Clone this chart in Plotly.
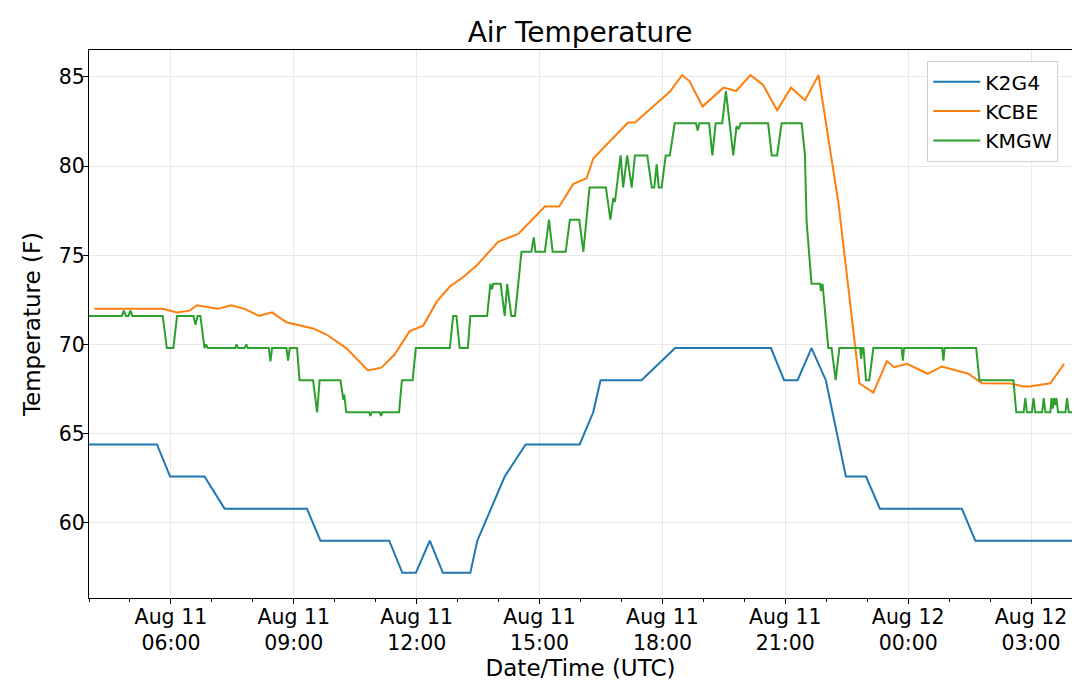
import pandas as pd
import plotly.graph_objects as go

# ---------------- data ----------------
START = "2018-08-11 04:00"   # left edge of the time axis (UTC)
END = "2018-08-12 04:00"

# hours after START, temperature (F)
k2g4_hours = [0, 1.66, 1.98, 2.82, 3.31, 5.32, 5.65, 7.33, 7.65, 7.98, 8.32, 8.64,
              9.31, 9.48, 10.15, 10.66, 11.98, 12.31, 12.49, 13.49, 14.31, 16.65,
              16.97, 17.30, 17.64, 17.99, 18.48, 18.97, 19.31, 21.31, 21.64, 24.0]
k2g4_temp = [64.4, 64.4, 62.6, 62.6, 60.8, 60.8, 59.0, 59.0, 57.2, 57.2, 59.0, 57.2,
             57.2, 59.0, 62.6, 64.4, 64.4, 66.2, 68.0, 68.0, 69.8, 69.8,
             68.0, 68.0, 69.8, 68.0, 62.6, 62.6, 60.8, 60.8, 59.0, 59.0]

kcbe_hours = [0.13, 1.80, 2.15, 2.46, 2.63, 3.15, 3.47, 3.80, 4.15, 4.47, 4.82, 5.14,
              5.47, 5.80, 6.28, 6.81, 7.14, 7.46, 7.83, 8.16, 8.49, 8.81, 9.13, 9.46,
              9.99, 10.48, 11.13, 11.48, 11.82, 12.15, 12.31, 13.16, 13.33, 14.18,
              14.48, 14.66, 14.98, 15.49, 15.80, 16.15, 16.46, 16.80, 17.14, 17.48,
              17.81, 18.30, 18.81, 19.15, 19.48, 19.66, 19.97, 20.48, 20.82, 21.47,
              21.80, 22.49, 22.82, 22.96, 23.47, 23.81]
kcbe_temp = [72.0, 72.0, 71.8, 71.9, 72.2, 72.0, 72.2, 72.0, 71.6, 71.8, 71.25, 71.06,
             70.9, 70.56, 69.8, 68.55, 68.7, 69.44, 70.75, 71.06, 72.4, 73.25, 73.77, 74.42,
             75.76, 76.2, 77.74, 77.74, 78.99, 79.32, 80.42, 82.44, 82.44, 84.17,
             85.1, 84.77, 83.34, 84.4, 84.21, 85.1, 84.55, 83.13, 84.4, 83.7,
             85.1, 77.9, 67.83, 67.3, 69.07, 68.73, 68.92, 68.36, 68.77, 68.36,
             67.83, 67.82, 67.65, 67.65, 67.83, 68.92]

kmgw_hours = [0, 0.80, 0.85, 0.90, 0.96, 1.01, 1.06, 1.80, 1.90, 2.06, 2.15,
              2.55, 2.60, 2.65, 2.72, 2.82, 2.86, 2.90, 3.57, 3.60, 3.64, 3.80, 3.84, 3.88,
              4.39, 4.43, 4.47, 4.82, 4.86, 4.90, 5.08, 5.14, 5.47, 5.57, 5.63,
              6.14, 6.21, 6.23, 6.28, 6.84, 6.87, 6.90, 7.10, 7.13, 7.16,
              7.57, 7.64, 7.90, 7.98, 8.81, 8.89, 8.97, 9.05, 9.25, 9.31,
              9.72, 9.80, 9.84, 9.87, 10.05, 10.15, 10.21, 10.31, 10.40, 10.56,
              10.80, 10.86, 10.90, 11.13, 11.23, 11.32, 11.64, 11.74, 11.97, 12.07, 12.22,
              12.62, 12.73, 12.80, 12.84, 12.98, 13.04, 13.14, 13.25, 13.33,
              13.63, 13.74, 13.80, 13.86, 13.91, 13.98, 14.08, 14.18, 14.30,
              14.82, 14.86, 14.90, 15.14, 15.22, 15.30, 15.46, 15.55, 15.73, 15.81,
              15.86, 15.91, 16.58, 16.67, 16.80, 16.91, 17.40, 17.48, 17.52, 17.59, 17.64,
              17.85, 17.87, 17.91, 18.05, 18.13, 18.23, 18.32, 18.83, 18.85, 18.88,
              18.91, 18.97, 19.05, 19.15, 19.84, 19.87, 19.90, 20.83, 20.86, 20.89,
              21.66, 21.74, 22.57, 22.64, 22.82, 22.86, 22.90, 23.02, 23.06, 23.10,
              23.27, 23.31, 23.35, 23.47, 23.50, 23.53, 23.56, 23.59, 23.62, 23.66,
              23.84, 23.88, 23.92, 24.0]
kmgw_temp = [71.6, 71.6, 71.9, 71.6, 71.6, 71.9, 71.6, 71.6, 69.8, 69.8, 71.6,
             71.6, 71.1, 71.6, 71.6, 69.8, 70.0, 69.8, 69.8, 70.0, 69.8, 69.8, 70.0, 69.8,
             69.8, 69.05, 69.8, 69.8, 69.1, 69.8, 69.8, 68.0, 68.0, 66.2, 68.0,
             68.0, 66.9, 67.2, 66.2, 66.2, 66.0, 66.2, 66.2, 66.0, 66.2,
             66.2, 68.0, 68.0, 69.8, 69.8, 71.6, 71.6, 69.8, 69.8, 71.6,
             71.6, 73.4, 73.1, 73.4, 73.4, 71.6, 73.4, 71.6, 71.6, 75.2,
             75.2, 76.0, 75.2, 75.2, 77.0, 75.2, 75.2, 77.0, 77.0, 75.2, 78.8,
             78.8, 77.0, 78.2, 78.0, 80.6, 78.8, 80.6, 78.8, 80.6,
             80.6, 78.8, 78.8, 80.1, 78.8, 78.8, 80.6, 80.6, 82.4,
             82.4, 82.0, 82.4, 82.4, 80.6, 82.4, 82.4, 84.2, 80.6, 82.25,
             82.07, 82.4, 82.4, 80.6, 80.6, 82.4, 82.4, 80.6, 76.9, 74.9, 73.4,
             73.4, 73.0, 73.4, 69.8, 69.8, 68.0, 69.8, 69.8, 69.2, 69.8,
             69.8, 68.0, 68.0, 69.8, 69.8, 69.1, 69.8, 69.8, 69.1, 69.8,
             69.8, 68.0, 68.0, 66.2, 66.2, 67.0, 66.2, 66.2, 67.0, 66.2,
             66.2, 67.0, 66.2, 66.2, 67.0, 66.4, 67.0, 66.6, 67.0, 66.2,
             66.2, 67.0, 66.2, 66.2]

y_ticks = [60, 65, 70, 75, 80, 85]
x_tick_times = ["2018-08-11 06:00", "2018-08-11 09:00", "2018-08-11 12:00",
                "2018-08-11 15:00", "2018-08-11 18:00", "2018-08-11 21:00",
                "2018-08-12 00:00", "2018-08-12 03:00"]
x_tick_labels = ["Aug 11<br>06:00", "Aug 11<br>09:00", "Aug 11<br>12:00",
                 "Aug 11<br>15:00", "Aug 11<br>18:00", "Aug 11<br>21:00",
                 "Aug 12<br>00:00", "Aug 12<br>03:00"]

stations = ["K2G4", "KCBE", "KMGW"]
colors = ["#1f77b4", "#ff7f0e", "#2ca02c"]
# -----------------------------------------------------------------

start = pd.Timestamp(START)


def to_times(hours):
    return [start + pd.Timedelta(hours=h) for h in hours]


series = [(k2g4_hours, k2g4_temp), (kcbe_hours, kcbe_temp), (kmgw_hours, kmgw_temp)]

FONT = "DejaVu Sans"
TICK_SIZE = 20.5
fig = go.Figure()
for name, color, (hrs, temps) in zip(stations, colors, series):
    fig.add_trace(go.Scatter(
        x=to_times(hrs), y=temps, mode="lines", name=name,
        line=dict(color=color, width=2),
    ))

# the page puts the figure 8px in from the top-left corner, so the figure is 8px smaller
fig.update_layout(
    width=1072, height=681,
    margin=dict(l=81, r=8, t=42, b=91),
    paper_bgcolor="white", plot_bgcolor="white",
    font=dict(family=FONT, color="black", size=TICK_SIZE),
    title=dict(text="Air Temperature", x=0.5336, xanchor="center",
               y=0.950, yanchor="bottom", yref="container",
               font=dict(size=28, family=FONT, color="black")),
    legend=dict(x=0.986, xanchor="right", y=0.98, yanchor="top",
                bgcolor="rgba(255,255,255,0.85)", bordercolor="#d0d0d0", borderwidth=1,
                font=dict(size=20.3, family=FONT), itemwidth=47),
    showlegend=True,
)

fig.update_xaxes(
    type="date", range=[START, END], automargin=False,
    tickvals=x_tick_times, ticktext=x_tick_labels,
    showline=True, linecolor="black", linewidth=1.3, mirror=True,
    ticks="outside", ticklen=5, tickwidth=1.2, tickcolor="black",
    ticklabelstandoff=-5,
    showgrid=True, gridcolor="#e8e8e8", gridwidth=1,
    minor=dict(dtick=3600000, ticks="outside", ticklen=3, tickcolor="black", showgrid=False),
    tickfont=dict(size=TICK_SIZE, family=FONT),
    title=dict(text="Date/Time (UTC)", font=dict(size=23, family=FONT), standoff=1),
    zeroline=False,
)
fig.update_yaxes(
    range=[55.79, 86.51], tickvals=y_ticks, automargin=False,
    showline=True, linecolor="black", linewidth=1.3, mirror=True,
    ticks="outside", ticklen=5, tickwidth=1.2, tickcolor="black",
    ticklabelstandoff=-6,
    showgrid=True, gridcolor="#e8e8e8", gridwidth=1,
    tickfont=dict(size=TICK_SIZE, family=FONT),
    title=dict(text="Temperature (F)", font=dict(size=23, family=FONT), standoff=11),
    zeroline=False,
)

fig.write_html("out.html")
